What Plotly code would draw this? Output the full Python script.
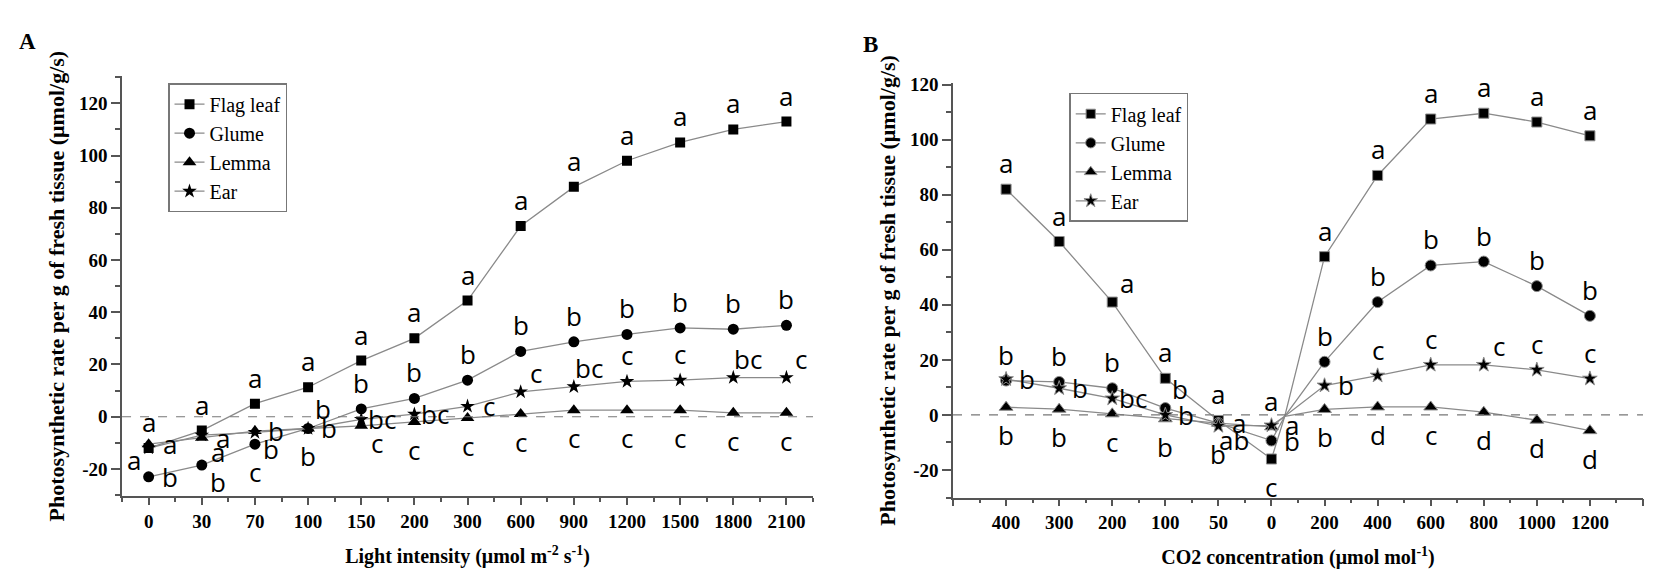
import plotly.graph_objects as go

# ---- data: panel A (light response) ----
light_labels = ["0", "30", "70", "100", "150", "200", "300", "600", "900", "1200", "1500", "1800", "2100"]
flag_A = [-12, -5.3, 5, 11.3, 21.5, 30, 44.5, 73, 88, 98, 105, 110, 113]
glume_A = [-23, -18.5, -10.5, -4.5, 3, 7, 14, 25, 28.7, 31.5, 34, 33.5, 35]
lemma_A = [-10.5, -8, -5.5, -4.5, -3.5, -2, -0.5, 1, 2.5, 2.5, 2.5, 1.5, 1.5]
ear_A = [-12, -7, -6, -4.5, -1, 1, 4, 9.5, 11.5, 13.5, 14, 15, 15]

flag_A_sig = ["a"] * 13
glume_A_sig = ["b", "b", "c", "b", "b", "b", "b", "b", "b", "b", "b", "b", "b"]
lemma_A_sig = ["a", "a", "b", "b", "c", "c", "c", "c", "c", "c", "c", "c", "c"]
ear_A_sig = ["a", "a", "b", "b", "bc", "bc", "c", "c", "bc", "c", "c", "bc", "c"]

# ---- data: panel B (CO2 response) ----
co2_labels = ["400", "300", "200", "100", "50", "0", "200", "400", "600", "800", "1000", "1200"]
flag_B = [82, 63, 41, 13.3, -2, -16, 57.5, 87, 107.5, 109.6, 106.4, 101.4]
glume_B = [12.5, 12, 9.7, 2.5, -3, -9.3, 19.3, 41, 54.3, 55.7, 46.8, 36]
lemma_B = [2.8, 2.1, 0.4, -1.4, -3, -4.3, 2, 2.9, 2.9, 1, -1.9, -5.7]
ear_B = [13, 9.7, 6, 0, -4, -3.8, 10.7, 14.3, 18.2, 18.2, 16.4, 13.2]
# lines of every series pass through a common point between "0" and "200"
junction_B = [-0.5, -0.5, -0.5, -0.5]

flag_B_sig = ["a", "a", "a", "a", "a", "c", "a", "a", "a", "a", "a", "a"]
glume_B_sig = ["b", "b", "b", "b", "a", "b", "b", "b", "b", "b", "b", "b"]
lemma_B_sig = ["b", "b", "c", "b", "ab", "a", "b", "d", "c", "d", "d", "d"]
ear_B_sig = ["b", "b", "bc", "b", "b", "a", "b", "c", "c", "c", "c", "c"]

series = ["Flag leaf", "Glume", "Lemma", "Ear"]
symbols = ["square", "circle", "triangle-up", "star"]
sizes = [10, 11, 12, 11]

# label placement codes (pixel offsets) -- layout only
OFF = {"t": (0, 26), "b": (0, -28), "r": (21, 0), "tr": (15, 19),
       "br": (16, -17), "bl": (-15, -12)}
pos_A = {
    "Flag leaf": ["t"] * 13,
    "Glume": ["r", "br", "b", "tr", "t", "t", "t", "t", "t", "t", "t", "t", "t"],
    "Lemma": ["r", "r", "r", "b", "br", "b", "b", "b", "b", "b", "b", "b", "b"],
    "Ear": ["bl", "br", "br", "r", "r", "r", "r", "tr", "tr", "t", "t", "tr", "tr"],
}
pos_B = {
    "Flag leaf": ["t", "t", "tr", "t", "t", "b", "t", "t", "t", "t", "t", "t"],
    "Glume": ["t", "t", "t", "tr", "r", "r", "t", "t", "t", "t", "t", "t"],
    "Lemma": ["b", "b", "b", "b", "br", "t", "b", "b", "b", "b", "b", "b"],
    "Ear": ["r", "r", "r", "r", "b", "r", "r", "t", "t", "tr", "t", "t"],
}

LINE = "#8a8a8a"
SERIF = "Liberation Serif"
SANS = "Open Sans"
LETTER = dict(family=SANS, size=26, color="black")

fig = go.Figure()

xa = list(range(len(light_labels)))
valsA = [flag_A, glume_A, lemma_A, ear_A]
sigA = [flag_A_sig, glume_A_sig, lemma_A_sig, ear_A_sig]
for name, sym, sz, v in zip(series, symbols, sizes, valsA):
    fig.add_trace(go.Scatter(
        x=xa, y=v, mode="lines+markers", name=name, legend="legend",
        line=dict(color=LINE, width=1.3),
        marker=dict(symbol=sym, size=sz, color="black", opacity=1),
        xaxis="x", yaxis="y"))

# panel B: insert junction point between "0" (index 5) and "200" (index 6)
JX = 5.25
xb = list(range(6)) + [JX] + list(range(6, len(co2_labels)))
valsB = [flag_B, glume_B, lemma_B, ear_B]
sigB = [flag_B_sig, glume_B_sig, lemma_B_sig, ear_B_sig]
for k, (name, sym, sz, v) in enumerate(zip(series, symbols, sizes, valsB)):
    yb = v[:6] + [junction_B[k]] + v[6:]
    msz = [sz] * 6 + [0] + [sz] * (len(v) - 6)
    fig.add_trace(go.Scatter(
        x=xb, y=yb, mode="lines+markers", name=name, legend="legend2",
        line=dict(color=LINE, width=1.3),
        marker=dict(symbol=sym, size=msz, color="black", opacity=1),
        xaxis="x2", yaxis="y2"))

annotations = []
for name, v, s in zip(series, valsA, sigA):
    for i, (val, lab) in enumerate(zip(v, s)):
        dx, dy = OFF[pos_A[name][i]]
        annotations.append(dict(x=i, y=val, xref="x", yref="y", text=lab,
                                showarrow=False, xshift=dx, yshift=dy, font=LETTER))
for name, v, s in zip(series, valsB, sigB):
    for i, (val, lab) in enumerate(zip(v, s)):
        dx, dy = OFF[pos_B[name][i]]
        annotations.append(dict(x=i, y=val, xref="x2", yref="y2", text=lab,
                                showarrow=False, xshift=dx, yshift=dy, font=LETTER))

annotations += [
    dict(x=0.012, y=0.957, xref="paper", yref="paper", text="<b>A</b>", showarrow=False,
         xanchor="center", yanchor="middle", font=dict(family=SERIF, size=23, color="black")),
    dict(x=0.5215, y=0.951, xref="paper", yref="paper", text="<b>B</b>", showarrow=False,
         xanchor="center", yanchor="middle", font=dict(family=SERIF, size=23, color="black")),
]

tickfont = dict(family=SERIF, size=19, color="black")
titlefont = dict(family=SERIF, size=20, color="black")
ytitlefont = dict(family=SERIF, size=22, color="black")
ytitle = "<b>Photosynthetic rate per g of fresh tissue (μmol/g/s)</b>"
axis_common = dict(showline=True, linecolor="#555", linewidth=1.5, ticks="outside",
                   tickcolor="#555", tickwidth=1.5, showgrid=False, zeroline=False,
                   tickfont=tickfont)
yticks = [-20, 0, 20, 40, 60, 80, 100, 120]

fig.update_layout(
    width=1653, height=575, margin=dict(l=0, r=0, t=0, b=0),
    plot_bgcolor="white", paper_bgcolor="white",
    xaxis=dict(domain=[0.069, 0.487], range=[-0.5, 12.5], tickvals=xa,
               ticktext=["<b>%s</b>" % t for t in light_labels], ticklen=7,
               minor=dict(ticks="outside", tick0=0.5, dtick=1, ticklen=4, tickcolor="#555"),
               title=dict(text="<b>Light intensity (μmol m<sup>-2</sup> s<sup>-1</sup>)</b>",
                          font=titlefont, standoff=18),
               anchor="y", **axis_common),
    yaxis=dict(domain=[0.153, 0.896], range=[-30.5, 130.5], tickvals=yticks,
               ticktext=["<b>%d</b>" % t for t in yticks], ticklen=9,
               minor=dict(ticks="outside", dtick=10, ticklen=5, tickcolor="#555"),
               title=dict(text=ytitle, font=ytitlefont, standoff=8),
               anchor="x", **axis_common),
    xaxis2=dict(domain=[0.5717, 0.9891], range=[-1, 12], tickvals=list(range(-1, 13)),
                ticktext=[""] + ["<b>%s</b>" % t for t in co2_labels] + [""], ticklen=7,
                minor=dict(ticks="outside", tick0=-0.5, dtick=1, ticklen=4, tickcolor="#555"),
                title=dict(text="<b>CO2 concentration (μmol mol<sup>-1</sup>)</b>",
                           font=titlefont, standoff=18),
                anchor="y2", **axis_common),
    yaxis2=dict(domain=[0.151, 0.883], range=[-30, 120.5], tickvals=yticks,
                ticktext=["<b>%d</b>" % t for t in yticks], ticklen=9,
                minor=dict(ticks="outside", dtick=10, ticklen=5, tickcolor="#555"),
                title=dict(text=ytitle, font=ytitlefont, standoff=8),
                anchor="x2", **axis_common),
    legend=dict(x=0.0968, y=0.883, xanchor="left", yanchor="top",
                bordercolor="#777", borderwidth=1.5, bgcolor="white",
                font=dict(family=SERIF, size=20, color="black"), tracegroupgap=0,
                itemwidth=30),
    legend2=dict(x=0.642, y=0.866, xanchor="left", yanchor="top",
                 bordercolor="#777", borderwidth=1.5, bgcolor="white",
                 font=dict(family=SERIF, size=20, color="black"), tracegroupgap=0,
                 itemwidth=30),
    annotations=annotations,
    shapes=[
        dict(type="line", xref="x domain", yref="y", x0=0, x1=1, y0=0, y1=0,
             line=dict(color="#777", width=1.2, dash="dash")),
        dict(type="line", xref="x2 domain", yref="y2", x0=0, x1=1, y0=0, y1=0,
             line=dict(color="#777", width=1.2, dash="dash")),
    ],
)

fig.write_html("out.html")
